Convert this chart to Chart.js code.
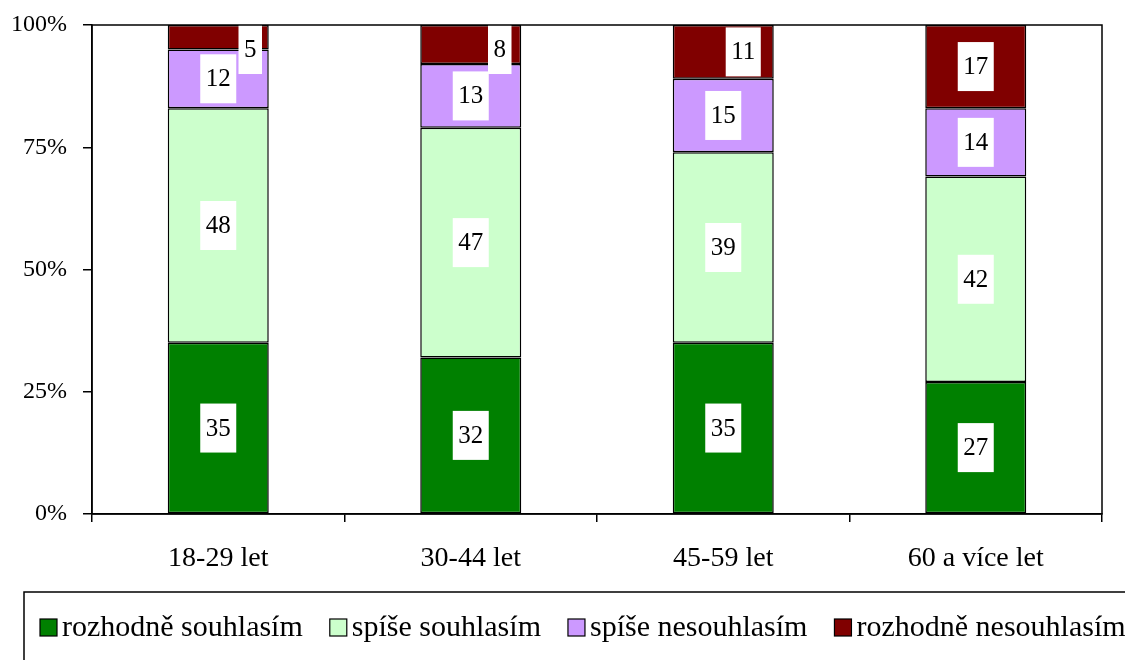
<!DOCTYPE html>
<html>
<head>
<meta charset="utf-8">
<script src="https://cdn.jsdelivr.net/npm/chart.js@4.4.0/dist/chart.umd.min.js"></script>
<style>
  html, body { margin: 0; padding: 0; background: #fff; }
  #wrap { width: 1125px; height: 660px; }
</style>
</head>
<body>
<div id="wrap"><canvas id="chart" width="1125" height="660"></canvas></div>
<script>
// data (percent of respondents)
const categories = ['18-29 let', '30-44 let', '45-59 let', '60 a více let'];
const seriesNames = ['rozhodně souhlasím', 'spíše souhlasím', 'spíše nesouhlasím', 'rozhodně nesouhlasím'];
const strongAgree = [35, 32, 35, 27];
const ratherAgree = [48, 47, 39, 42];
const ratherDisagree = [12, 13, 15, 14];
const strongDisagree = [5, 8, 11, 17];
const yTicks = [0, 25, 50, 75, 100];

const seriesColors = ['#008000', '#CCFFCC', '#CC99FF', '#800000'];
const serif = '"Liberation Serif", "Times New Roman", serif';

// white boxes with the value, centred in each segment
const segmentLabels = {
    id: 'segmentLabels',
    afterDatasetsDraw(chart, args, opts) {
        const ctx = chart.ctx;
        const area = chart.chartArea;
        ctx.save();
        ctx.font = opts.font;
        ctx.textAlign = 'center';
        ctx.textBaseline = 'middle';
        chart.data.datasets.forEach((ds, di) => {
            const meta = chart.getDatasetMeta(di);
            meta.data.forEach((bar, i) => {
                const text = String(ds.data[i]);
                const w = ctx.measureText(text).width + 11;
                const h = opts.boxHeight;
                const nudge = (opts.nudgeX[di] || [])[i] || 0;
                const cx = bar.x + nudge;
                const cy = (bar.y + bar.base) / 2;
                const top = Math.max(area.top, cy - h / 2);
                ctx.fillStyle = '#fff';
                ctx.fillRect(cx - w / 2, top, w, h);
                ctx.fillStyle = '#000';
                ctx.fillText(text, cx, top + h / 2 + 1);
            });
        });
        ctx.restore();
    }
};

// plot frame and the boxed legend under the chart
const frameAndLegend = {
    id: 'frameAndLegend',
    afterDraw(chart, args, opts) {
        const ctx = chart.ctx;
        const a = chart.chartArea;
        ctx.save();
        ctx.strokeStyle = '#000';
        ctx.lineWidth = 1.5;
        ctx.strokeRect(a.left, a.top, a.right - a.left, a.bottom - a.top);

        // legend box, running off the right and bottom edges
        ctx.strokeRect(opts.x, opts.y, chart.width, chart.height);

        ctx.font = opts.font;
        ctx.textBaseline = 'middle';
        ctx.textAlign = 'left';
        let x = opts.x + 16;
        const cy = opts.y + 36;
        chart.data.datasets.forEach((ds) => {
            ctx.fillStyle = ds.backgroundColor;
            ctx.fillRect(x, cy - 9, 17, 17);
            ctx.strokeStyle = '#000';
            ctx.lineWidth = 1.2;
            ctx.strokeRect(x, cy - 9, 17, 17);
            ctx.fillStyle = '#000';
            ctx.fillText(ds.label, x + 22, cy);
            x += 22 + ctx.measureText(ds.label).width + opts.gap;
        });
        ctx.restore();
    }
};

const seriesValues = [strongAgree, ratherAgree, ratherDisagree, strongDisagree];

new Chart(document.getElementById('chart'), {
    type: 'bar',
    data: {
        labels: categories,
        datasets: seriesNames.map((name, i) => ({
            label: name,
            data: seriesValues[i],
            backgroundColor: seriesColors[i],
            borderColor: '#000',
            borderWidth: 1.5,
            borderSkipped: false,
            categoryPercentage: 1.0,
            barPercentage: 0.4
        }))
    },
    options: {
        responsive: false,
        animation: false,
        devicePixelRatio: 1,
        layout: { padding: { top: 25, right: 23, left: 0, bottom: 86 } },
        plugins: {
            legend: { display: false },
            tooltip: { enabled: false },
            segmentLabels: {
                font: '25px ' + serif,
                boxHeight: 49,
                nudgeX: { 3: [32, 29, 20, 0] }
            },
            frameAndLegend: {
                x: 24,
                y: 592,
                gap: 27,
                font: '30px ' + serif
            }
        },
        scales: {
            x: {
                stacked: true,
                afterFit(scale) { scale.height = 60; },
                grid: {
                    offset: true,
                    drawOnChartArea: false,
                    color: '#000',
                    lineWidth: 1.5,
                    tickLength: 8
                },
                border: { color: '#000', width: 1.5 },
                ticks: {
                    color: '#000',
                    padding: 20,
                    font: { family: serif, size: 28 }
                }
            },
            y: {
                stacked: true,
                min: 0,
                max: 100,
                afterFit(scale) {
                    scale.width = 92;
                    // let the layout padding alone decide the plot top
                    scale.paddingTop = 0;
                    scale.paddingBottom = 0;
                },
                afterBuildTicks(scale) {
                    scale.ticks = yTicks.map(v => ({ value: v }));
                },
                grid: {
                    drawOnChartArea: false,
                    color: '#000',
                    lineWidth: 1.5,
                    tickLength: 9
                },
                border: { color: '#000', width: 1.5 },
                ticks: {
                    color: '#000',
                    padding: 16,
                    font: { family: serif, size: 24 },
                    callback: v => v + '%'
                }
            }
        }
    },
    plugins: [segmentLabels, frameAndLegend]
});
</script>
</body>
</html>
